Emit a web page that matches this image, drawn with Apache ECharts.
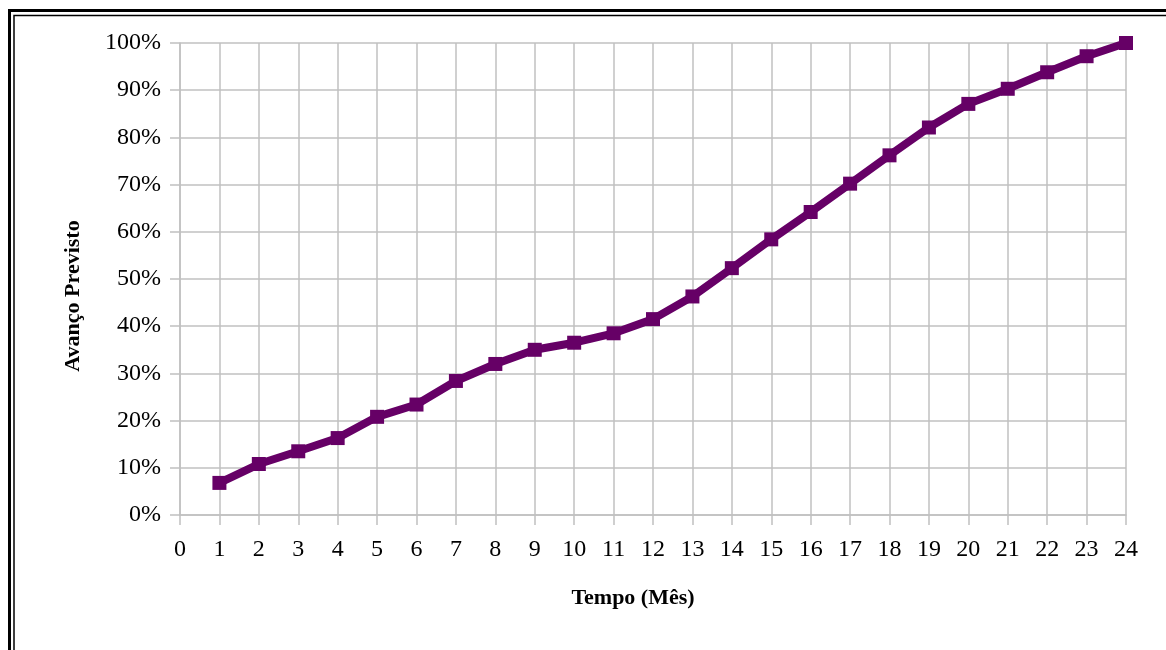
<!DOCTYPE html>
<html>
<head>
<meta charset="utf-8">
<script src="https://cdn.jsdelivr.net/npm/echarts@6/dist/echarts.min.js"></script>
<style>
  html, body { margin: 0; padding: 0; background: #fff; }
  #chart { width: 1166px; height: 650px; }
</style>
</head>
<body>
<div id="chart"></div>
<script>
// months and planned progress (%)
const meses = [1, 2, 3, 4, 5, 6, 7, 8, 9, 10, 11, 12, 13, 14, 15, 16, 17, 18, 19, 20, 21, 22, 23, 24];
const avanco = [6.8, 10.8, 13.5, 16.3, 20.8, 23.4, 28.4, 32.0, 35.0, 36.5, 38.5, 41.5,
  46.3, 52.3, 58.4, 64.2, 70.2, 76.2, 82.1, 87.1, 90.3, 93.8, 97.2, 100];

const FONT = "'Liberation Serif', 'Times New Roman', serif";
const GRID_COLOR = "#c0c0c0";

const chart = echarts.init(document.getElementById("chart"));

const option = {
  backgroundColor: "#fff",
  animation: false,
  grid: { left: 180, right: 40, top: 43, bottom: 135 },
  graphic: [
    {
      type: "rect",
      shape: { x: 9.5, y: 10.5, width: 1300, height: 1000 },
      style: { fill: "none", stroke: "#000", lineWidth: 3 },
      z: 100,
    },
    {
      type: "rect",
      shape: { x: 14, y: 15.5, width: 1300, height: 1000 },
      style: { fill: "none", stroke: "#000", lineWidth: 1.5 },
      z: 100,
    },
  ],
  xAxis: {
    type: "value",
    min: 0,
    max: 24,
    interval: 1,
    name: "Tempo (Mês)",
    nameLocation: "middle",
    nameGap: 72,
    nameTextStyle: {
      fontFamily: FONT,
      fontWeight: "bold",
      fontSize: 22,
      color: "#000",
      padding: [0, 40, 0, 0],
    },
    axisLine: { lineStyle: { color: GRID_COLOR, width: 1.5 } },
    axisTick: { show: true, length: 10, lineStyle: { color: GRID_COLOR, width: 1.5 } },
    axisLabel: { margin: 23, fontFamily: FONT, fontSize: 24, color: "#000" },
    splitLine: { show: true, lineStyle: { color: GRID_COLOR, width: 1.5 } },
  },
  yAxis: {
    type: "value",
    min: 0,
    max: 100,
    interval: 10,
    name: "Avanço Previsto",
    nameLocation: "middle",
    nameGap: 96,
    nameTextStyle: {
      fontFamily: FONT,
      fontWeight: "bold",
      fontSize: 22,
      color: "#000",
      padding: [0, 34, 0, 0],
    },
    axisLine: { show: true, lineStyle: { color: GRID_COLOR, width: 1.5 } },
    axisTick: { show: true, length: 10, lineStyle: { color: GRID_COLOR, width: 1.5 } },
    axisLabel: {
      margin: 19,
      fontFamily: FONT,
      fontSize: 24,
      color: "#000",
      formatter: "{value}%",
    },
    splitLine: { show: true, lineStyle: { color: GRID_COLOR, width: 1.5 } },
  },
  series: [
    {
      type: "line",
      data: meses.map((m, i) => [m, avanco[i]]),
      symbol: "rect",
      symbolSize: 14,
      lineStyle: { color: "#660066", width: 8 },
      itemStyle: { color: "#660066" },
    },
  ],
};

chart.setOption(option);
</script>
</body>
</html>
